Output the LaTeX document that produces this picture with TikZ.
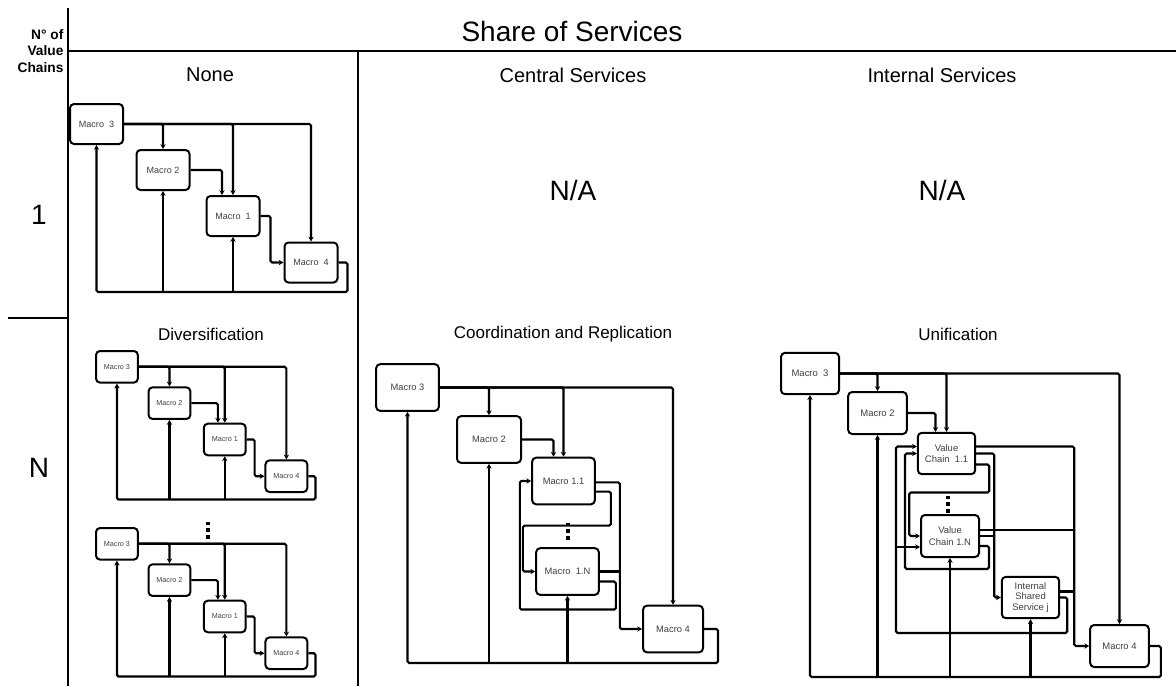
\documentclass[tikz,border=0pt]{standalone}
\usepackage{fontspec}
\setmainfont{Liberation Sans}
\usetikzlibrary{arrows.meta}
\tikzset{
  mbox/.style={draw, line width=1.5pt, rounded corners=3pt, fill=white, text=black!75, inner sep=0pt, align=center},
  arr/.style={line width=1.6pt, rounded corners=1.2pt, -{Stealth[length=3.6pt,width=4pt]}},
  ln/.style={line width=1.6pt, rounded corners=1.2pt},
  gridline/.style={line width=1.5pt},
  coltitle/.style={font=\fontsize{15}{16}\selectfont},
  subtitle/.style={font=\fontsize{12.75}{14}\selectfont},
  bigtxt/.style={font=\fontsize{21}{22}\selectfont},
  dotsq/.style={fill=black},
}
\newcommand{\fourchain}[8]{%
\begin{scope}[shift={(#2,#3)}, scale=#4,
  every node/.append style={minimum width={53*0.75pt*#4}, minimum height={40*0.75pt*#4}, font=\fontsize{#5}{#5}\selectfont}]
  \node[mbox] (#1m3) at (26.5,20) {#6};
  \node[mbox] (#1m2) at (93,66) {Macro 2};
  \node[mbox] (#1m1) at (163,112) {#7};
  \node[mbox] (#1m4) at (241,158.5) {#8};
  \coordinate (#1b) at (0,188);
  \draw[arr] (#1m3.east) -| (#1m4.north);
  \draw[arr] (#1m3.east) -| (#1m2.north);
  \draw[arr] (#1m3.east) -| (#1m1.north);
  \draw[arr] (#1m2.east) -| ([xshift={-8.25pt*#4}]#1m1.north);
  \draw[arr] (#1m1.east) -- ++(10,0) |- (#1m4.west);
  \draw[arr] (#1m4.east) -- ++(9,0) |- (#1b -| #1m3.south) -- (#1m3.south);
  \draw[arr] (#1b -| #1m2.south) -- (#1m2.south);
  \draw[arr] (#1b -| #1m1.south) -- (#1m1.south);
\end{scope}}
\newcommand{\vdotsq}[2]{%
  \fill[dotsq] (#1-1.7,#2-8.5) rectangle ++(3.4,3.4);
  \fill[dotsq] (#1-1.7,#2-1.7) rectangle ++(3.4,3.4);
  \fill[dotsq] (#1-1.7,#2+5.1) rectangle ++(3.4,3.4);}
\begin{document}
\begin{tikzpicture}[x=0.75pt, y=-0.75pt]
\useasboundingbox (0,0) rectangle (1176,686);
% grid
\draw[gridline] (68,8) -- (68,686);
\draw[gridline] (68,51) -- (1176,51);
\draw[line width=1.2pt] (358,51) -- (358,686);
\draw[line width=0.9pt] (8,318) -- (68,318);
% header texts
\node[anchor=east, align=right, inner sep=1pt, font=\bfseries\fontsize{10.3}{12.4}\selectfont] (nvc) at (65,51) {N° of\\Value\\Chains};
\node[font=\fontsize{21}{22}\selectfont] (title) at (572,31) {Share of Services};
\node[coltitle] (none) at (210,75) {None};
\node[coltitle] (cs) at (573,75) {Central Services};
\node[coltitle] (is) at (942,75) {Internal Services};
\node[bigtxt] (na1) at (573,190) {N/A};
\node[bigtxt] (na2) at (942,190) {N/A};
\node[bigtxt] (r1) at (39,215) {1};
\node[bigtxt] (rN) at (39,468) {N};
\node[subtitle] (div) at (211,334) {Diversification};
\node[subtitle] (cr) at (563,334) {Coordination and Replication};
\node[subtitle] (uni) at (958,334) {Unification};
% None / Diversification diagrams
\fourchain{n}{70}{104}{1}{6.8}{Macro~ 3}{Macro~ 1}{Macro~ 4}
\fourchain{da}{96}{351}{0.79}{5.4}{Macro 3}{Macro 1}{Macro 4}
\fourchain{db}{96}{528}{0.79}{5.4}{Macro 3}{Macro 1}{Macro 4}
\vdotsq{208}{530}
% Coordination and Replication
\begin{scope}[every node/.append style={font=\fontsize{7}{8}\selectfont}]
  \node[mbox, minimum width=47pt, minimum height=35pt] (cm3) at (407.5,387.5) {Macro 3};
  \node[mbox, minimum width=48pt, minimum height=35pt] (cm2) at (489,439.5) {Macro 2};
  \node[mbox, minimum width=47pt, minimum height=35pt] (cm11) at (563.5,481) {Macro 1.1};
  \node[mbox, minimum width=47pt, minimum height=35pt] (cm1N) at (567.5,571.5) {Macro~ 1.N};
  \node[mbox, minimum width=45pt, minimum height=35pt] (cm4) at (673,629) {Macro 4};
\end{scope}
\vdotsq{568}{531}
\coordinate (cb) at (0,663);
\draw[arr] (cm3.east) -| (cm4.north);
\draw[arr] (cm3.east) -| (cm2.north);
\draw[arr] (cm3.east) -| (cm11.north);
\draw[arr] (cm2.east) -| ([xshift=-7.5pt]cm11.north);
\draw[arr] ([yshift=-1pt]cm11.east) -- ++(24,0) |- (cm4.west);
\draw[ln] (cm1N.east) -- ++(20,0);
\draw[arr] ([yshift=-8pt]cm11.east) -- ++(15,0) -- ++(0,34) -- ++(-88,0) |- (cm1N.west);
\draw[arr] ([yshift=-7.5pt]cm1N.east) -- ++(16,0) -- ++(0,28) -- ++(-96,0) |- (cm11.west);
\draw[arr] (cm4.east) -- ++(14,0) |- (cb -| cm3.south) -- (cm3.south);
\draw[arr] (cb -| cm2.south) -- (cm2.south);
\draw[arr] (cb -| cm1N.south) -- (cm1N.south);
% Unification
\begin{scope}[every node/.append style={font=\fontsize{7.1}{8.6}\selectfont}]
  \node[mbox, minimum width=43.5pt, minimum height=31pt] (um3) at (810,373.5) {Macro~ 3};
  \node[mbox, minimum width=44pt, minimum height=31.5pt] (um2) at (877.5,413) {Macro 2};
  \node[mbox, minimum width=43pt, minimum height=31pt] (uv11) at (946.5,453.5) {Value\\Chain~ 1.1};
  \node[mbox, minimum width=43.5pt, minimum height=31.5pt] (uv1N) at (950,536) {Value\\Chain 1.N};
  \node[mbox, minimum width=43pt, minimum height=31pt, font=\fontsize{7.1}{8.2}\selectfont] (uiss) at (1030.5,597.5) {Internal\\Shared\\Service j};
  \node[mbox, minimum width=44pt, minimum height=31.5pt] (um4) at (1119.5,646) {Macro 4};
\end{scope}
\vdotsq{948}{504}
\coordinate (ub) at (0,677);
\coordinate (uL) at (896,633);
\coordinate (uv1Nlow) at ([yshift=-8.25pt]uv1N.west);
\draw[arr] (um3.east) -| (um4.north);
\draw[arr] (um3.east) -| (um2.north);
\draw[arr] (um3.east) -| (uv11.north);
\draw[arr] (um2.east) -| ([xshift=-8.25pt]uv11.north);
\draw[arr] ([yshift=5.25pt]uv11.east) -- ++(98,0) |- (um4.west);
\draw[ln] ([yshift=4.5pt]uv1N.east) -- ++(94,0);
\draw[ln] ([yshift=4.5pt]uiss.east) -- ++(14,0);
\draw[arr] (uv11.east) -- ++(18,0) |- (uiss.west);
\draw[ln] (uv1N.east) -- ++(14,0);
\draw[arr] ([yshift=-8.25pt]uv11.east) -- ++(13,0) -- ++(0,28) -- ++(-80,0) |- (uv1N.west);
\draw[arr] ([yshift=-7.5pt]uv1N.east) -- ++(9,0) -- ++(0,23) -- ++(-84,0) |- (uv11.west);
\draw[arr] (uiss.east) -- ++(7,0) |- (uL) |- ([yshift=5.25pt]uv11.west);
\draw[arr] (uL |- uv1Nlow) -- (uv1Nlow);
\draw[arr] (um4.east) -- ++(11,0) |- (ub -| um3.south) -- (um3.south);
\draw[arr] (ub -| um2.south) -- (um2.south);
\draw[arr] (ub -| uv1N.south) -- (uv1N.south);
\draw[arr] (ub -| uiss.south) -- (uiss.south);
\end{tikzpicture}
\end{document}
